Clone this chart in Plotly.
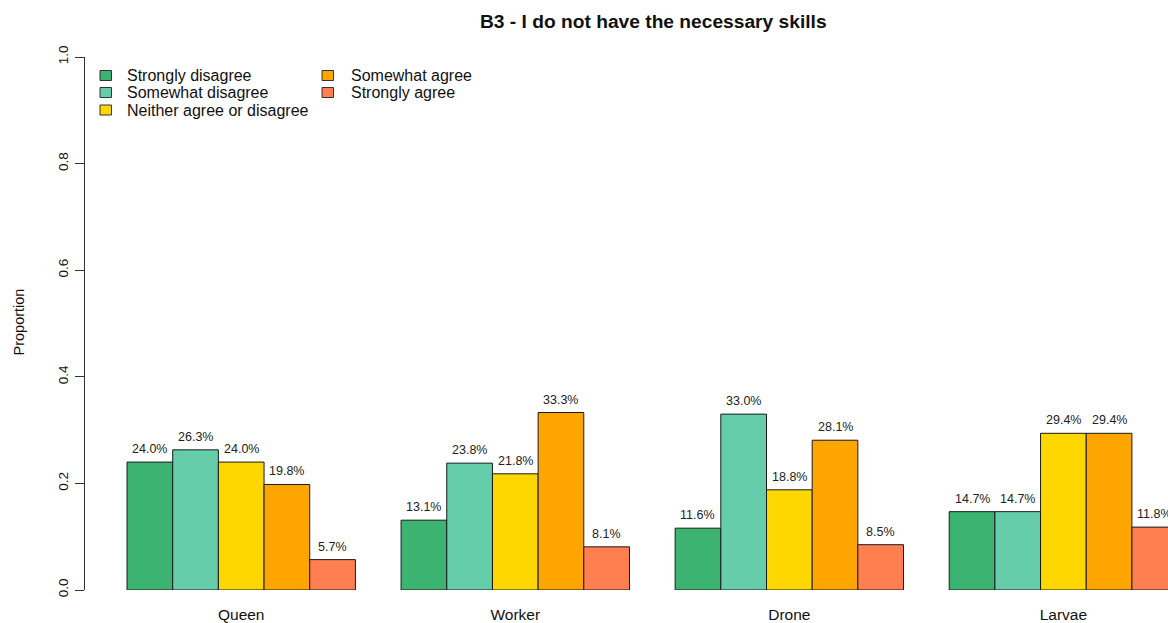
import plotly.graph_objects as go

categories = ["Queen", "Worker", "Drone", "Larvae"]
responses = ["Strongly disagree", "Somewhat disagree", "Neither agree or disagree",
             "Somewhat agree", "Strongly agree"]
colors = ["#3CB371", "#66CDAA", "#FFD700", "#FFA500", "#FF7F50"]
values = {
    "Strongly disagree":          [0.240, 0.131, 0.116, 0.147],
    "Somewhat disagree":          [0.263, 0.238, 0.330, 0.147],
    "Neither agree or disagree":  [0.240, 0.218, 0.188, 0.294],
    "Somewhat agree":             [0.198, 0.333, 0.281, 0.294],
    "Strongly agree":             [0.057, 0.081, 0.085, 0.118],
}
yticks = [0.0, 0.2, 0.4, 0.6, 0.8, 1.0]

W, H = 1168, 623
L, T, B = 85, 57, 33
FONT = "Liberation Sans, Arial, sans-serif"
nser = len(responses)
step = nser + 1  # R barplot beside=TRUE, space=c(0,1)

fig = go.Figure()
annotations = []
shapes = []
for s, (name, col) in enumerate(zip(responses, colors)):
    xs = [1 + g * step + s + 0.5 for g in range(len(categories))]
    ys = values[name]
    fig.add_trace(go.Bar(
        x=xs, y=ys, width=1, name=name,
        marker=dict(color=col, line=dict(color="#1a1a1a", width=1)),
        hoverinfo="skip", showlegend=False,
    ))
    for x, y in zip(xs, ys):
        annotations.append(dict(
            x=x, y=y, xref="x", yref="y", text=f"{y*100:.1f}%",
            showarrow=False, yanchor="bottom", yshift=4,
            font=dict(family=FONT, size=12.5, color="#222"),
        ))

centers = [1 + g * step + nser / 2 for g in range(len(categories))]

pw = W - L
ph = H - T - B
def px_x(p):
    return (p - L) / pw
def px_y(p):
    return (H - B - p) / ph

# title
annotations.append(dict(
    text="<b>B3 - I do not have the necessary skills</b>",
    xref="paper", yref="paper", x=px_x(653), y=px_y(22),
    xanchor="center", yanchor="middle", showarrow=False,
    font=dict(family=FONT, size=19.2, color="#111"),
))
# y axis title
annotations.append(dict(
    text="Proportion", textangle=-90,
    xref="paper", yref="paper", x=px_x(18.5), y=px_y(322),
    xanchor="center", yanchor="middle", showarrow=False,
    font=dict(family=FONT, size=14.5, color="#111"),
))

# legend (two columns, R style)
legend_cols = [(100, 125), (322, 349)]
row_y = [75.5, 92.5, 110]
for i, (name, col) in enumerate(zip(responses, colors)):
    c, r = (0, i) if i < 3 else (1, i - 3)
    bx, tx = legend_cols[c]
    cy = row_y[r]
    shapes.append(dict(
        type="rect", xref="paper", yref="paper",
        x0=px_x(bx), x1=px_x(bx + 11.5), y0=px_y(cy - 5), y1=px_y(cy + 5),
        fillcolor=col, line=dict(color="#333", width=1), layer="above",
    ))
    annotations.append(dict(
        text=name, xref="paper", yref="paper", x=px_x(tx), y=px_y(cy),
        xanchor="left", yanchor="middle", showarrow=False,
        font=dict(family=FONT, size=16, color="#111"),
    ))

fig.update_layout(
    width=W, height=H,
    margin=dict(l=L, r=0, t=T, b=B, autoexpand=False),
    paper_bgcolor="white", plot_bgcolor="white",
    barmode="overlay",
    font=dict(family=FONT, size=14, color="#111"),
    annotations=annotations,
    shapes=shapes,
    showlegend=False,
    xaxis=dict(
        range=[0.08, 23.79], showgrid=False, zeroline=False, showline=False,
        tickvals=centers, ticktext=categories, ticks="",
        tickfont=dict(family=FONT, size=15.5, color="#111"),
        ticklabelstandoff=13,
    ),
    yaxis=dict(
        range=[0, 1.0], tickvals=yticks, ticktext=[f"{v:.1f}" for v in yticks],
        showgrid=False, zeroline=False, showline=True, linecolor="#333", linewidth=1,
        ticks="outside", ticklen=9, tickcolor="#333", tickangle=-90,
        tickfont=dict(family=FONT, size=13.5, color="#111"),
        ticklabelstandoff=2,
    ),
)

fig.write_html(
    "out.html",
    config={"displayModeBar": False},
    post_script="document.body.style.margin='0';document.body.style.overflow='hidden';",
)
